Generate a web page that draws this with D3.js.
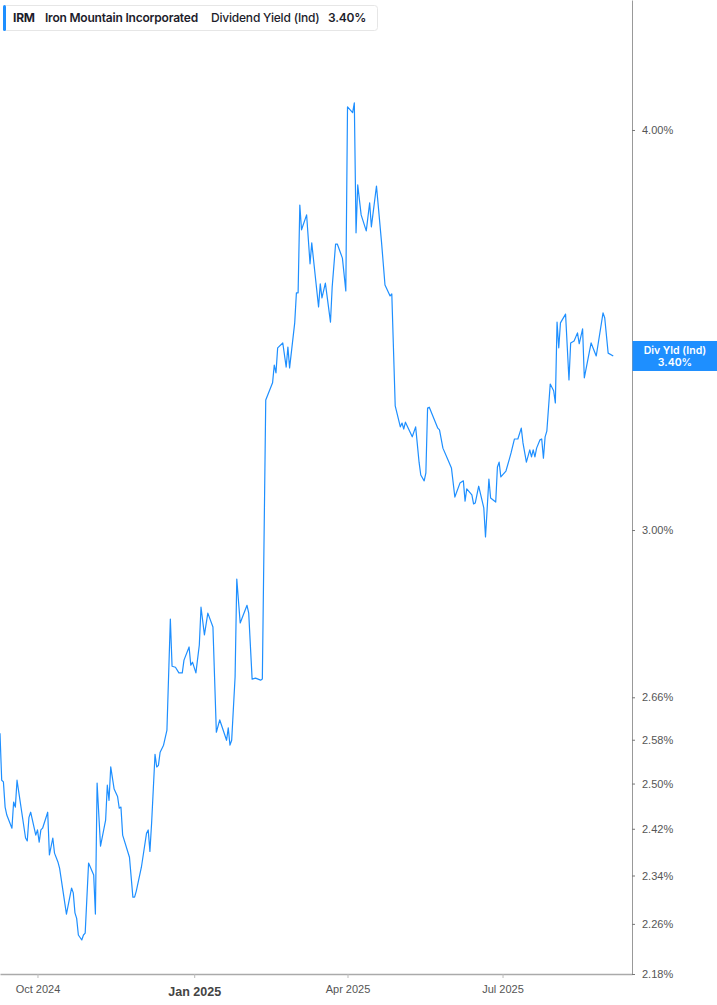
<!DOCTYPE html>
<html>
<head>
<meta charset="utf-8">
<script src="https://cdn.jsdelivr.net/npm/d3@7"></script>
<style>
  body { margin: 0; background: #fff; }
  svg { display: block; }
</style>
</head>
<body>
<div class="graph"></div>
<script>
/*---------- DATA ----------*/

const dates = [
  "2024-09-09","2024-09-10","2024-09-11","2024-09-12","2024-09-13","2024-09-16","2024-09-17","2024-09-18","2024-09-19","2024-09-20",
  "2024-09-24","2024-09-25","2024-09-26","2024-09-27","2024-09-30","2024-10-01","2024-10-02","2024-10-03","2024-10-04","2024-10-07",
  "2024-10-08","2024-10-10","2024-10-11","2024-10-13","2024-10-14","2024-10-18","2024-10-21","2024-10-22","2024-10-23","2024-10-24",
  "2024-10-25","2024-10-27","2024-10-28","2024-10-29","2024-10-31","2024-11-03","2024-11-04","2024-11-05","2024-11-07","2024-11-10",
  "2024-11-11","2024-11-12","2024-11-13","2024-11-15","2024-11-17","2024-11-18","2024-11-19","2024-11-20","2024-11-24","2024-11-26",
  "2024-11-27","2024-11-28","2024-12-01","2024-12-04","2024-12-05","2024-12-06","2024-12-07","2024-12-09","2024-12-10","2024-12-11",
  "2024-12-12","2024-12-14","2024-12-16","2024-12-18","2024-12-19","2024-12-21","2024-12-23","2024-12-25","2024-12-26","2024-12-29",
  "2024-12-30","2024-12-31","2025-01-02","2025-01-04","2025-01-05","2025-01-07","2025-01-09","2025-01-12","2025-01-14","2025-01-16",
  "2025-01-20","2025-01-21","2025-01-22","2025-01-23","2025-01-25","2025-01-26","2025-01-28","2025-02-01","2025-02-02","2025-02-04",
  "2025-02-06","2025-02-09","2025-02-10","2025-02-12","2025-02-16","2025-02-17","2025-02-18","2025-02-19","2025-02-22","2025-02-24",
  "2025-02-25","2025-02-26","2025-03-01","2025-03-02","2025-03-03","2025-03-04","2025-03-05","2025-03-08","2025-03-10","2025-03-11",
  "2025-03-15","2025-03-16","2025-03-17","2025-03-19","2025-03-22","2025-03-23","2025-03-25","2025-03-26","2025-03-29","2025-03-31",
  "2025-04-01","2025-04-04","2025-04-05","2025-04-06","2025-04-07","2025-04-09","2025-04-12","2025-04-14","2025-04-15","2025-04-18",
  "2025-04-21","2025-04-23","2025-04-26","2025-04-27","2025-04-29","2025-05-02","2025-05-03","2025-05-04","2025-05-05","2025-05-09",
  "2025-05-11","2025-05-13","2025-05-14","2025-05-16","2025-05-17","2025-05-18","2025-05-19","2025-05-24","2025-05-25","2025-05-27",
  "2025-05-30","2025-06-01","2025-06-03","2025-06-06","2025-06-08","2025-06-09","2025-06-10","2025-06-13","2025-06-14","2025-06-15",
  "2025-06-17","2025-06-20","2025-06-21","2025-06-23","2025-06-24","2025-06-27","2025-06-28","2025-06-29","2025-06-30","2025-07-03",
  "2025-07-05","2025-07-06","2025-07-08","2025-07-10","2025-07-12","2025-07-13","2025-07-15","2025-07-17","2025-07-18","2025-07-19",
  "2025-07-20","2025-07-21","2025-07-23","2025-07-24","2025-07-25","2025-07-26","2025-07-27","2025-07-29","2025-07-31","2025-08-01",
  "2025-08-02","2025-08-03","2025-08-04","2025-08-07","2025-08-09","2025-08-10","2025-08-12","2025-08-14","2025-08-15","2025-08-17",
  "2025-08-18","2025-08-22","2025-08-25","2025-08-29","2025-08-30","2025-09-01","2025-09-04"
];

const yieldValues = [
  2.592,2.506,2.503,2.458,2.444,2.421,2.467,2.458,2.506,2.485,
  2.404,2.399,2.440,2.449,2.409,2.418,2.397,2.418,2.421,2.449,
  2.375,2.404,2.378,2.363,2.352,2.276,2.319,2.311,2.278,2.269,
  2.242,2.234,2.242,2.245,2.361,2.341,2.276,2.501,2.390,2.435,
  2.497,2.470,2.530,2.490,2.477,2.456,2.458,2.409,2.371,2.304,
  2.304,2.314,2.354,2.412,2.418,2.381,2.430,2.553,2.530,2.533,
  2.557,2.570,2.598,2.814,2.720,2.718,2.707,2.707,2.732,2.758,
  2.722,2.728,2.707,2.762,2.838,2.782,2.826,2.798,2.594,2.617,
  2.579,2.602,2.570,2.579,2.699,2.896,2.806,2.842,2.826,2.695,
  2.697,2.693,2.695,3.294,3.335,3.378,3.359,3.420,3.432,3.373,
  3.422,3.371,3.482,3.558,3.558,3.790,3.723,3.763,3.633,3.688,
  3.522,3.581,3.545,3.583,3.484,3.573,3.685,3.685,3.648,3.563,
  4.067,4.050,4.079,3.715,3.845,3.763,3.720,3.796,3.731,3.842,
  3.688,3.578,3.550,3.555,3.280,3.231,3.240,3.226,3.242,3.208,
  3.231,3.150,3.121,3.108,3.126,3.275,3.277,3.228,3.224,3.182,
  3.155,3.137,3.072,3.103,3.108,3.063,3.090,3.077,3.057,3.059,
  3.096,3.048,2.985,3.112,3.070,3.061,3.139,3.150,3.117,3.130,
  3.157,3.171,3.203,3.203,3.228,3.194,3.150,3.178,3.162,3.178,
  3.162,3.182,3.201,3.203,3.159,3.208,3.221,3.332,3.316,3.287,
  3.484,3.420,3.482,3.504,3.342,3.432,3.437,3.457,3.430,3.467,
  3.347,3.432,3.400,3.507,3.494,3.407,3.400
];

const yTickValues = [2.18, 2.26, 2.34, 2.42, 2.50, 2.58, 2.66, 3.00, 4.00];
const xTickDates = ["2024-10-01", "2025-01-01", "2025-04-01", "2025-07-01"];
const xDomain = ["2024-09-09", "2025-09-15"];
const yDomain = [2.18, 4.392];

const ticker = "IRM";
const companyName = "Iron Mountain Incorporated";
const metricName = "Dividend Yield (Ind)";
const lastLabel = "Div Yld (Ind)";
const lastValue = 3.40;

/*---------- D3 STUFF ----------*/

//define dimensions
const SIZE = {X: 717, Y: 1005};
const PLOT = {RIGHT: 632, BOTTOM: 974};
const BLUE = "#1e8fff";
const AXIS_FONT = "'Liberation Sans', Arial, sans-serif";
const UI_FONT = "Inter, 'Noto Sans', sans-serif";

const parse = d3.timeParse("%Y-%m-%d");
const data = dates.map((d, i) => ({date: parse(d), value: yieldValues[i]}));

//add svg
const svg = d3.select(".graph").append("svg")
    .attr("width", SIZE.X)
    .attr("height", SIZE.Y);

//define scales
const x = d3.scaleTime()
    .domain(xDomain.map(parse))
    .range([0, PLOT.RIGHT]);

const y = d3.scaleLog()
    .domain(yDomain)
    .range([PLOT.BOTTOM, 0]);

//x axis
const xAxis = svg.append("g")
    .attr("class", "x axis")
    .attr("transform", `translate(0, ${PLOT.BOTTOM})`)
    .call(d3.axisBottom(x)
        .tickValues(xTickDates.map(parse))
        .tickFormat(d3.timeFormat("%b %Y"))
        .tickSize(4)
        .tickSizeOuter(0));

xAxis.select(".domain").attr("stroke", "#aaa").attr("stroke-width", 1.5);
xAxis.selectAll(".tick line").attr("stroke", "#bbb");
xAxis.selectAll(".tick text")
    .attr("fill", "#555")
    .attr("y", 11)
    .style("font-family", AXIS_FONT)
    .style("font-size", "11px")
    .filter(d => d.getMonth() === 0)
    .attr("fill", "#444")
    .attr("y", 13)
    .style("font-size", "12.5px")
    .style("font-weight", "bold");

//y axis on the right
const yAxis = svg.append("g")
    .attr("class", "y axis")
    .attr("transform", `translate(${PLOT.RIGHT}, 0)`)
    .call(d3.axisRight(y)
        .tickValues(yTickValues)
        .tickFormat(d => d.toFixed(2) + "%")
        .tickSize(3)
        .tickSizeOuter(0));

yAxis.select(".domain").attr("stroke", "#999");
yAxis.selectAll(".tick line").attr("stroke", "#777");
yAxis.selectAll(".tick text")
    .attr("x", 10)
    .attr("fill", "#555")
    .style("font-family", AXIS_FONT)
    .style("font-size", "11px");

//the yield line
const line = d3.line()
    .x(d => x(d.date))
    .y(d => y(d.value));

svg.append("path")
    .datum(data)
    .attr("class", "line")
    .attr("fill", "none")
    .attr("stroke", BLUE)
    .attr("stroke-width", 1.2)
    .attr("stroke-linejoin", "round")
    .attr("d", line);

//last value tag on the axis
const tagY = y(lastValue);
const tag = svg.append("g").attr("transform", `translate(${PLOT.RIGHT}, ${tagY})`);
tag.append("rect")
    .attr("x", 0.5)
    .attr("y", -15)
    .attr("width", SIZE.X - PLOT.RIGHT)
    .attr("height", 30)
    .attr("fill", BLUE);
tag.selectAll("text")
    .data([lastLabel, lastValue.toFixed(2) + "%"])
    .join("text")
    .attr("x", (SIZE.X - PLOT.RIGHT) / 2 + 0.5)
    .attr("y", (d, i) => i === 0 ? -1.5 : 10)
    .attr("text-anchor", "middle")
    .attr("fill", "#fff")
    .style("font-family", UI_FONT)
    .style("font-size", "10.5px")
    .style("font-weight", 600)
    .text(d => d);

//legend box at the top
const legend = svg.append("g").attr("class", "legend");
legend.append("rect")
    .attr("x", 3.5)
    .attr("y", 5.5)
    .attr("width", 374)
    .attr("height", 25)
    .attr("rx", 3)
    .attr("fill", "#fff")
    .attr("stroke", "#e6e6e6");
legend.append("rect")
    .attr("x", 3)
    .attr("y", 5)
    .attr("width", 3)
    .attr("height", 26)
    .attr("rx", 1.5)
    .attr("fill", BLUE);

const legendItems = [
    {text: ticker, x: 13, w: 700},
    {text: companyName, x: 45, w: 600},
    {text: metricName, x: 211, w: 500},
    {text: lastValue.toFixed(2) + "%", x: 328, w: 600}
];
legend.selectAll("text")
    .data(legendItems)
    .join("text")
    .attr("x", d => d.x)
    .attr("y", 22)
    .attr("fill", "#1d1d2b")
    .style("font-family", UI_FONT)
    .style("font-size", "12px")
    .style("font-weight", d => d.w)
    .style("letter-spacing", "-0.2px")
    .text(d => d.text);
</script>
</body>
</html>
